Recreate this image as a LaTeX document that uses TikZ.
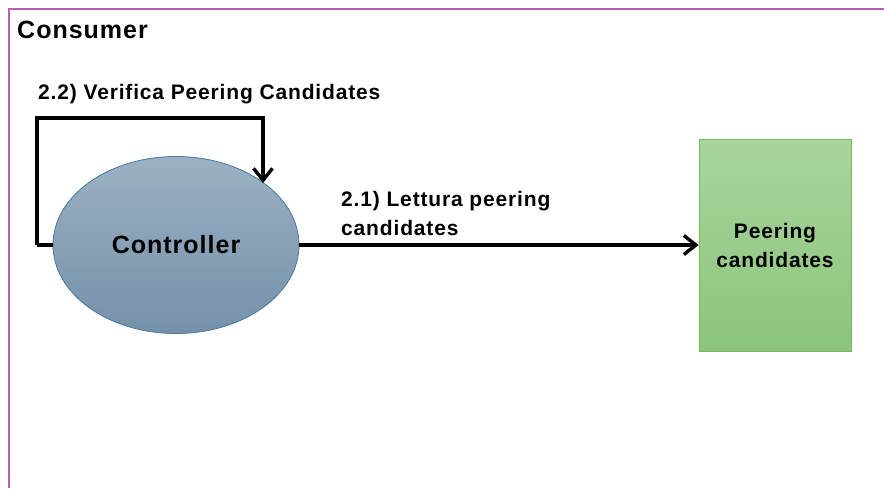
\documentclass[tikz,border=0pt]{standalone}
\usepackage{fontspec}
\setmainfont{Liberation Sans}[LetterSpace=4]
\usetikzlibrary{arrows.meta,shapes.geometric}

\definecolor{frameC}{RGB}{184,92,184}
\definecolor{ctrlTop}{RGB}{156,177,195}
\definecolor{ctrlBot}{RGB}{117,145,170}
\definecolor{ctrlLine}{RGB}{74,122,156}
\definecolor{storeTop}{RGB}{169,212,156}
\definecolor{storeBot}{RGB}{139,197,124}
\definecolor{storeLine}{RGB}{122,184,95}

\tikzset{
  bigtext/.style={font=\fontsize{25}{30}\selectfont\bfseries},
  labeltext/.style={font=\fontsize{21}{29}\selectfont\bfseries, inner sep=0pt, align=left},
  conn/.style={line width=3.4pt, -{Straight Barb[length=12pt,width=19pt,line width=3.4pt]}},
  plainline/.style={line width=3.4pt},
}

\begin{document}
\begin{tikzpicture}[x=1pt,y=-1pt]
  \useasboundingbox (0,0) rectangle (884,488);
  \fill[white] (0,0) rectangle (884,488);

  % consumer frame (only top and left edges fall inside the view)
  \draw[frameC, line width=1.8pt] (9,488) -- (9,9) -- (884,9);
  \node[bigtext, anchor=base west, inner sep=0pt] (title) at (17,38.5) {Consumer};

  % controller process
  \node[ellipse, minimum width=246pt, minimum height=177pt, inner sep=0pt,
        draw=ctrlLine, line width=0.8pt, top color=ctrlTop, bottom color=ctrlBot,
        bigtext] (ctrl) at (176,245) {Controller};

  % data store
  \node[rectangle, minimum width=152pt, minimum height=212pt, inner sep=0pt,
        draw=storeLine, line width=0.8pt, top color=storeTop, bottom color=storeBot,
        labeltext, align=center] (store) at (775,245) {Peering\\candidates};

  % self loop: verification
  \coordinate (loopL) at (37,245);
  \coordinate (loopTop) at (263,118);
  \draw[plainline] (ctrl.west) -- (loopL);
  \draw[conn] (loopL) |- (loopTop) -- (loopTop |- ctrl.35.5);
  \node[labeltext, anchor=base west] (lblLoop) at (38,99) {2.2) Verifica Peering Candidates};

  % read flow
  \draw[conn] (ctrl.east) -- (store.west);
  \node[labeltext, anchor=base west] (lblRead) at (341,235) {2.1) Lettura peering\\candidates};
\end{tikzpicture}
\end{document}
